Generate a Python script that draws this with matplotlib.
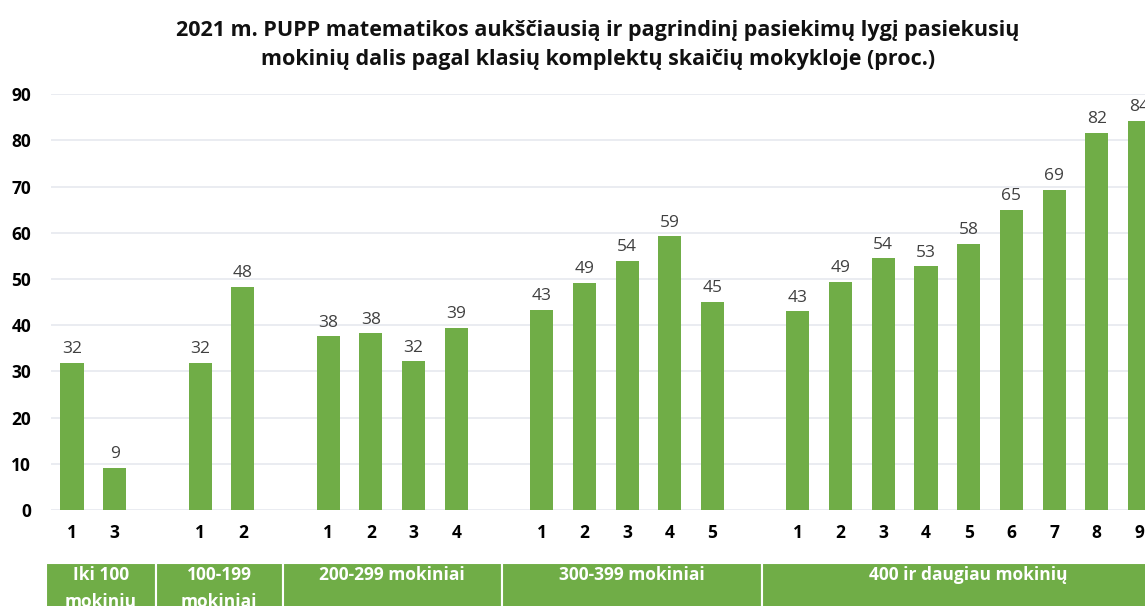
import matplotlib
matplotlib.use("Agg")
import matplotlib.pyplot as plt
from matplotlib.patches import Rectangle

plt.rcParams['font.family'] = ['Open Sans', 'DejaVu Sans']

# data
title = ("2021 m. PUPP matematikos aukščiausią ir pagrindinį pasiekimų lygį pasiekusių\n"
         "mokinių dalis pagal klasių komplektų skaičių mokykloje (proc.)")
groups = ["Iki 100\nmokinių", "100-199\nmokiniai", "200-299 mokiniai",
          "300-399 mokiniai", "400 ir daugiau mokinių"]
group_classes = [
    ["1", "3"],
    ["1", "2"],
    ["1", "2", "3", "4"],
    ["1", "2", "3", "4", "5"],
    ["1", "2", "3", "4", "5", "6", "7", "8", "9"],
]
group_values = [
    [31.9, 9.2],
    [31.9, 48.3],
    [37.6, 38.3, 32.2, 39.4],
    [43.4, 49.2, 54.0, 59.3, 45.1],
    [43.0, 49.4, 54.5, 52.8, 57.6, 65.0, 69.3, 81.7, 84.3],
]

green = '#70AD47'

# positions: one empty slot between groups
xs, labels, vals = [], [], []
pos = 0
for cls, v in zip(group_classes, group_values):
    for c, val in zip(cls, v):
        xs.append(pos)
        labels.append(c)
        vals.append(val)
        pos += 1
    pos += 1

# table cell borders (x in bar slots)
edges = [-0.616, 1.96, 4.93, 10.06, 16.16, 27]

W, H = 1145, 606
fig = plt.figure(figsize=(W / 100, H / 100), dpi=100)
unit = 42.7
x0 = 72 - 0.5 * unit
y0, y90 = 510, 94.3
ax = fig.add_axes([x0 / W, (H - y0) / H, 26.1 * unit / W, (y0 - y90) / H])
ax.set_xlim(-0.5, 25.6)
ax.set_ylim(0, 90)

ax.bar(xs, vals, width=0.54, color=green, zorder=3)
for x, v in zip(xs, vals):
    ax.annotate(f"{v:.0f}", (x, v), xytext=(0, 4), textcoords='offset points',
                ha='center', va='bottom', fontsize=12.5, color='#404040',
                clip_on=False, annotation_clip=False)

ax.set_yticks(range(0, 91, 10))
ax.set_xticks(xs)
ax.set_xticklabels(labels)
ax.tick_params(axis='y', length=0, pad=14, labelsize=12.5)
ax.tick_params(axis='x', length=0, pad=10, labelsize=12.5)
for t in ax.get_xticklabels() + ax.get_yticklabels():
    t.set_fontweight('bold')
ax.yaxis.grid(True, color='#E6E9EF', lw=1.2, zorder=0)
for s in ax.spines.values():
    s.set_visible(False)

# category table under the axis
tr = ax.get_xaxis_transform()
top = (y0 - 563) / (y0 - y90)
for i, g in enumerate(groups):
    a, b = edges[i], edges[i + 1]
    ax.add_patch(Rectangle((a, top - 0.3), b - a, 0.3, transform=tr,
                           facecolor=green, edgecolor='white', lw=1.5,
                           clip_on=False))
    xm = (a + b) / 2 if i < len(groups) - 1 else (a + 25.8) / 2
    ax.text(xm, top - 0.008, g, transform=tr, ha='center', va='top',
            color='white', fontsize=12.5, fontweight='bold', linespacing=1.65,
            clip_on=False)

fig.text(598 / W, 1 - 45 / H, title, ha='center', va='center',
         fontsize=15.5, fontweight='bold', linespacing=1.45, color='#111111')

fig.savefig('out.png', dpi=100)
